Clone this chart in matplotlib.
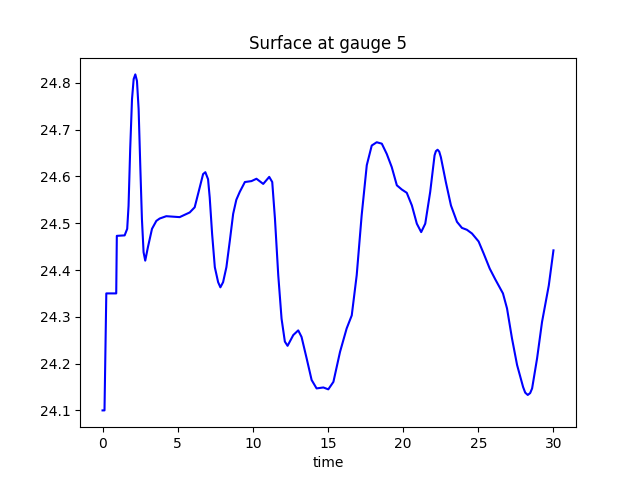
import numpy as np
import matplotlib
matplotlib.use("Agg")
import matplotlib.pyplot as plt

# surface elevation at gauge 5
t = [0.0, 0.13, 0.25, 0.91, 0.95, 1.47, 1.64, 1.73, 1.84, 1.96, 2.07, 2.18, 2.29, 2.4,
     2.51, 2.62, 2.73, 2.84, 3.02, 3.29, 3.58, 3.8, 4.24, 5.13, 5.8, 6.13, 6.47, 6.69,
     6.84, 7.02, 7.13, 7.29, 7.47, 7.69, 7.84, 8.02, 8.24, 8.47, 8.69, 8.9, 9.13, 9.47,
     9.91, 10.24, 10.69, 11.09, 11.29, 11.47, 11.69, 11.91, 12.13, 12.31, 12.69, 13.02,
     13.24, 13.58, 13.91, 14.24, 14.69, 15.02, 15.36, 15.8, 16.24, 16.58, 16.91, 17.24,
     17.58, 17.91, 18.24, 18.58, 18.91, 19.24, 19.58, 19.91, 20.24, 20.58, 20.91, 21.2,
     21.47, 21.8, 22.09, 22.18, 22.29, 22.4, 22.51, 22.84, 23.18, 23.58, 23.91, 24.24,
     24.58, 25.02, 25.36, 25.76, 26.13, 26.64, 26.91, 27.24, 27.58, 27.98, 28.12, 28.29,
     28.45, 28.58, 28.91, 29.24, 29.69, 30.0]
eta = [24.1, 24.1, 24.35, 24.35, 24.473, 24.474, 24.488, 24.537, 24.659, 24.765, 24.808,
       24.818, 24.804, 24.744, 24.623, 24.509, 24.438, 24.42, 24.449, 24.488, 24.505,
       24.51, 24.515, 24.513, 24.523, 24.534, 24.577, 24.605, 24.609, 24.594, 24.555,
       24.477, 24.406, 24.374, 24.363, 24.374, 24.406, 24.463, 24.52, 24.55, 24.567,
       24.588, 24.59, 24.595, 24.584, 24.599, 24.588, 24.51, 24.389, 24.296, 24.247,
       24.238, 24.261, 24.271, 24.257, 24.211, 24.165, 24.147, 24.149, 24.145, 24.161,
       24.225, 24.275, 24.303, 24.389, 24.517, 24.624, 24.666, 24.673, 24.67, 24.648,
       24.62, 24.581, 24.572, 24.565, 24.538, 24.499, 24.481, 24.499, 24.567, 24.645,
       24.654, 24.657, 24.653, 24.641, 24.588, 24.538, 24.503, 24.49, 24.486, 24.478,
       24.461, 24.435, 24.403, 24.38, 24.35, 24.318, 24.254, 24.197, 24.15, 24.138,
       24.133, 24.137, 24.147, 24.211, 24.289, 24.367, 24.442]

fig = plt.figure(figsize=(6.4, 4.8), dpi=100)
plt.plot(t, eta, 'b-')
plt.title('Surface at gauge 5')
plt.xlabel('time')
plt.savefig('out.png')
